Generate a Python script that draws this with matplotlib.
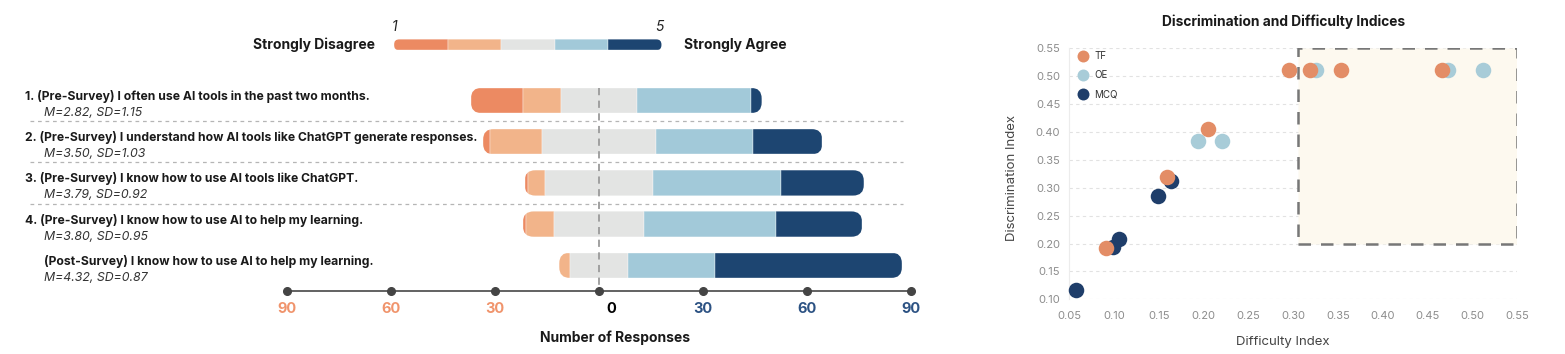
import numpy as np
import matplotlib.pyplot as plt
from matplotlib.patches import FancyBboxPatch, Rectangle
from matplotlib.lines import Line2D
from matplotlib.ticker import FormatStrFormatter

plt.rcParams["font.family"] = ["Inter", "DejaVu Sans"]

# ---- Likert data (number of responses per level) ----
questions = [
    "1. (Pre-Survey) I often use AI tools in the past two months.",
    "2. (Pre-Survey) I understand how AI tools like ChatGPT generate responses.",
    "3. (Pre-Survey) I know how to use AI tools like ChatGPT.",
    "4. (Pre-Survey) I know how to use AI to help my learning.",
    "(Post-Survey) I know how to use AI to help my learning.",
]
stats = ["M=2.82, SD=1.15", "M=3.50, SD=1.03", "M=3.79, SD=0.92",
         "M=3.80, SD=0.95", "M=4.32, SD=0.87"]
strongly_disagree = [15, 2, 1, 1, 0]
disagree = [11, 15, 5, 8, 3]
neutral = [22, 33, 31, 26, 17]
agree = [33, 28, 37, 38, 25]
strongly_agree = [3, 20, 24, 25, 54]
likert_colors = ["#EC8A62", "#F2B48A", "#E3E4E3", "#A2C9D9", "#1D4571"]
ticks = [-90, -60, -30, 0, 30, 60, 90]

# ---- item analysis data ----
tf_x = [0.2955, 0.3187, 0.3529, 0.4663, 0.2045, 0.1594, 0.0910]
tf_y = [0.511, 0.511, 0.511, 0.511, 0.405, 0.320, 0.1915]
oe_x = [0.325, 0.473, 0.5114, 0.1933, 0.220]
oe_y = [0.511, 0.511, 0.511, 0.384, 0.384]
mcq_x = [0.1631, 0.1494, 0.1058, 0.0991, 0.0575]
mcq_y = [0.3115, 0.2858, 0.2081, 0.1944, 0.1167]
c_tf, c_oe, c_mcq = "#E38D66", "#A8CCD8", "#1F3E6A"

W, H = 1565, 354
fig = plt.figure(figsize=(W / 100, H / 100), dpi=100)

# left panel: x in responses, y in rows
PX, ROW, X0, Y0 = 3.463, 41.2, 599, 100.5
ax = fig.add_axes([0, 0, 960 / W, 1])
ax.axis("off")
ax.set_xlim(-X0 / PX, (960 - X0) / PX)
ax.set_ylim((H - Y0) / ROW, -Y0 / ROW)


def ry(py):
    return (py - Y0) / ROW


def rx(px):
    return (px - X0) / PX


aspect = PX / ROW
bh = 25.5 / ROW


def rounded_bar(y, lefts, widths, colors, height, radius):
    total = sum(widths)
    clip = FancyBboxPatch((lefts[0], y - height / 2), total, height,
                          boxstyle=f"round,pad=0,rounding_size={radius / PX}",
                          mutation_aspect=aspect, facecolor="none",
                          edgecolor="none", transform=ax.transData)
    ax.add_patch(clip)
    bars = ax.barh([y] * len(widths), widths, left=lefts, height=height,
                   color=colors, edgecolor="white", linewidth=0.25)
    for b in bars:
        b.set_clip_path(clip)


for i in range(len(questions)):
    counts = [strongly_disagree[i], disagree[i], neutral[i], agree[i], strongly_agree[i]]
    start = -(counts[0] + counts[1] + counts[2] / 2)
    lefts = list(start + np.cumsum([0] + counts[:-1]))
    keep = [k for k in range(5) if counts[k] > 0]
    rounded_bar(i, [lefts[k] for k in keep], [counts[k] for k in keep],
                [likert_colors[k] for k in keep], bh, 11)

    tx = 25 if questions[i][0].isdigit() else 44
    fig.text(tx / W, 1 - (Y0 + i * ROW - 4) / H, questions[i], ha="left",
             va="center", fontsize=8.75, weight="bold", color="#1a1a1a")
    fig.text(44 / W, 1 - (Y0 + i * ROW + 12.5) / H, stats[i], ha="left",
             va="center", fontsize=8.9, style="italic", color="#333333")

# separators
for i in range(3):
    ax.plot([rx(30), rx(903)], [i + 0.5] * 2, color="#b5b5b5", lw=0.9,
            ls=(0, (3, 3)), zorder=1)

# center line
ax.plot([0, 0], [ry(87.7), ry(291)], color="#9a9a9a", lw=1.3,
        ls=(0, (4, 3)), zorder=5)

# axis with dots
ax.plot([ticks[0], ticks[-1]], [ry(291)] * 2, color="#555555", lw=1.3, zorder=4)
ax.plot(ticks, [ry(291)] * len(ticks), "o", color="#444444", ms=5.5, zorder=6)
for t in ticks:
    col = "#F0946C" if t < 0 else ("#2C5283" if t > 0 else "black")
    ax.text(t + (3.5 if t == 0 else 0), ry(309), str(abs(t)), ha="center",
            va="center", fontsize=10.5, weight="bold", color=col)
ax.text(rx(615.5), ry(337.7), "Number of Responses", ha="center",
        va="center", fontsize=10, weight="bold", color="#1a1a1a")

# legend scale
seg = 53.5 / PX
leg_lefts = [rx(394) + k * seg for k in range(5)]
rounded_bar(ry(44.8), leg_lefts, [seg] * 5, likert_colors, 11 / ROW, 5.4)
ax.text(rx(395), ry(26.7), "1", ha="center", va="center", fontsize=10,
        style="italic", color="#222222")
ax.text(rx(660), ry(26.7), "5", ha="center", va="center", fontsize=10,
        style="italic", color="#222222")
ax.text(rx(375), ry(44.5), "Strongly Disagree", ha="right", va="center",
        fontsize=10, weight="bold", color="#1a1a1a")
ax.text(rx(684), ry(45.3), "Strongly Agree", ha="left", va="center",
        fontsize=10, weight="bold", color="#1a1a1a")

# right panel: scatter
ax2 = fig.add_axes([1069.3 / W, (H - 299.3) / H, 448 / W, 251 / H])
ax2.set_xlim(0.05, 0.55)
ax2.set_ylim(0.10, 0.55)
ax2.add_patch(Rectangle((0.305, 0.2), 0.245, 0.35, facecolor="#FDF9EF",
                        edgecolor="#777777", lw=1.8, ls=(0, (5, 4)), zorder=1))
ax2.set_xticks(np.arange(0.05, 0.551, 0.05))
ax2.set_yticks(np.arange(0.10, 0.551, 0.05))
ax2.xaxis.set_major_formatter(FormatStrFormatter("%.2f"))
ax2.yaxis.set_major_formatter(FormatStrFormatter("%.2f"))
ax2.yaxis.grid(True, color="#e2e2e2", ls=(0, (3, 3)), lw=0.8)
ax2.set_axisbelow(True)
for s in ["top", "right", "bottom"]:
    ax2.spines[s].set_visible(False)
ax2.spines["left"].set_color("#ececec")
ax2.tick_params(axis="x", length=0, colors="#8c8c8c", labelsize=8, pad=8.5)
ax2.tick_params(axis="y", length=0, colors="#8c8c8c", labelsize=8, pad=6.5)

ax2.scatter(mcq_x, mcq_y, s=125, color=c_mcq, zorder=3, clip_on=False, lw=0)
ax2.scatter(oe_x, oe_y, s=125, color=c_oe, zorder=4, clip_on=False, lw=0)
ax2.scatter(tf_x, tf_y, s=125, color=c_tf, zorder=5, clip_on=False, lw=0)

handles = [Line2D([], [], ls="", marker="o", ms=8.6, color=c, mew=0)
           for c in [c_tf, c_oe, c_mcq]]
ax2.legend(handles, ["TF", "OE", "MCQ"], loc="upper left",
           bbox_to_anchor=(0.0, 1.02), frameon=False, fontsize=7,
           labelspacing=0.95, handlelength=1.2, handletextpad=0.6,
           borderpad=0.3, labelcolor="#333333")

fig.text(1284 / W, 1 - 21.7 / H, "Discrimination and Difficulty Indices",
         ha="center", va="center", fontsize=9.9, weight="bold", color="#1a1a1a")
fig.text(1283 / W, 1 - 342.3 / H, "Difficulty Index", ha="center",
         va="center", fontsize=9.5, color="#444444")
fig.text(1011.7 / W, 1 - 178 / H, "Discrimination Index", ha="center",
         va="center", fontsize=9.5, color="#444444", rotation=90)

fig.savefig("out.png", dpi=100)
